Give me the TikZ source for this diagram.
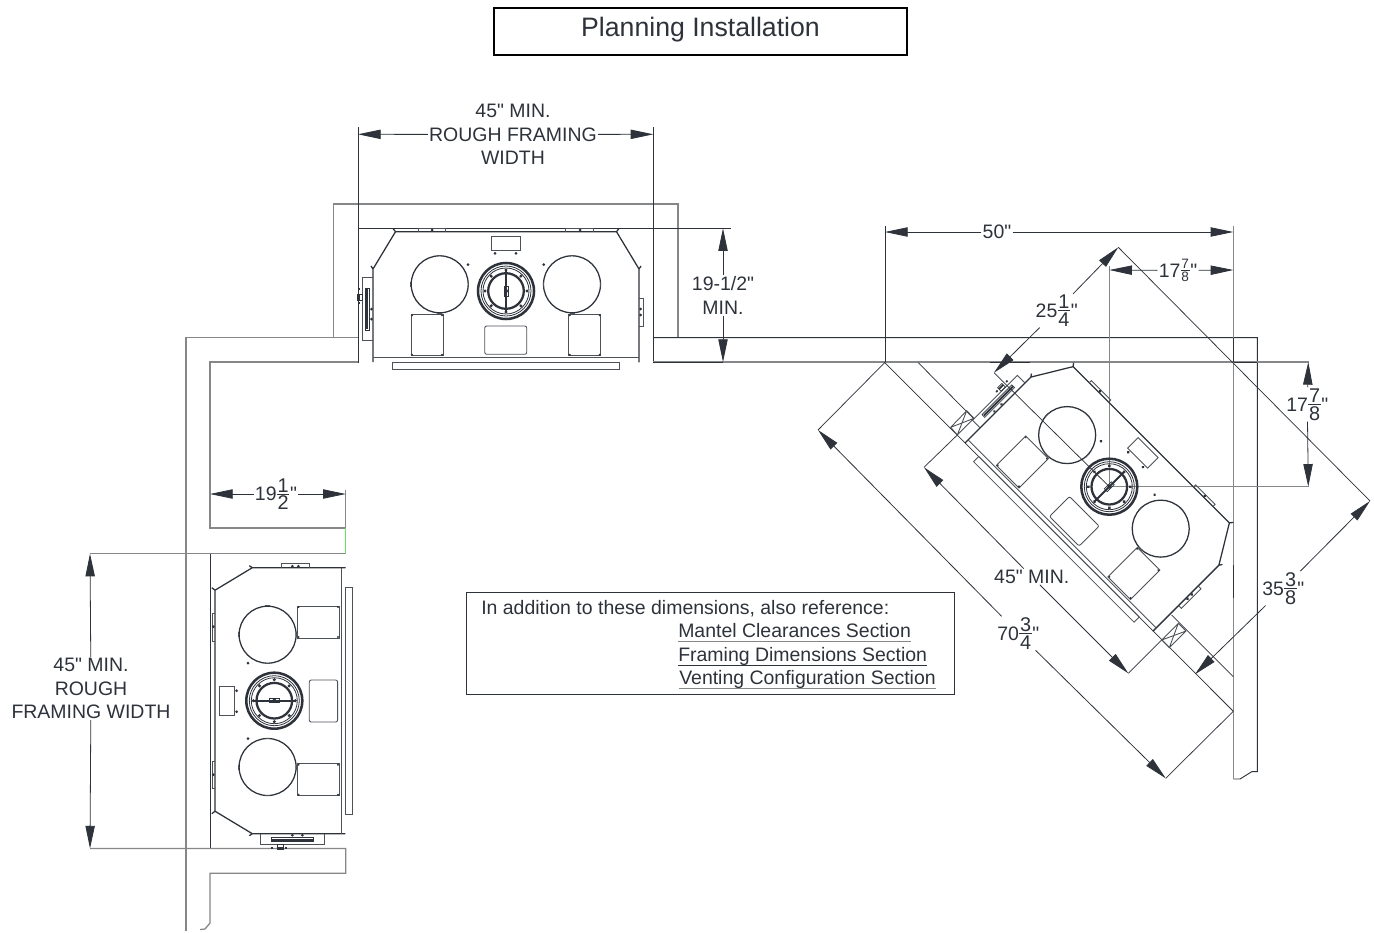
\documentclass[tikz,border=0pt]{standalone}
\usepackage{fontspec}
\newfontfamily\lsf{Liberation Sans}
\usetikzlibrary{arrows.meta}
\definecolor{inkc}{HTML}{2E333B}
\definecolor{wallc}{HTML}{858789}
\definecolor{greenc}{HTML}{66E066}
\newcommand{\fs}[1]{\lsf\fontsize{#1}{#1}\selectfont}
\newdimen\fracw
\newcommand{\mixfr}[4][14.9]{#2\kern.3pt\fracw=\dimexpr #1pt*556/1000+1pt\relax\lower\dimexpr #1pt*716/1000-4pt\relax\vbox{\offinterlineskip\hsize=\fracw
  \hbox to\fracw{\hfil\fs{#1}#3\hfil}\kern1.1pt\hrule height.55pt\kern1.1pt\hbox to\fracw{\hfil\fs{#1}#4\hfil}}\kern.5pt"}
\newsavebox{\ulbox}
\newcommand{\ult}[2]{\setbox\ulbox=\hbox{#2}\dp\ulbox=0pt\vtop{\offinterlineskip\copy\ulbox\kern2.9pt\hbox{\color{#1}\vrule width\wd\ulbox height.8pt depth0pt}}}
\tikzset{
 x=.75pt,y=-.75pt,
 wall/.style={draw=wallc,line width=.95pt},
 wallk/.style={draw=inkc,line width=.7pt},
 ext/.style={draw=inkc,line width=.55pt},
 dim/.style={draw=inkc,line width=.6pt,-{Triangle[length=17pt,width=7pt]}},
 lbl/.style={font=\fs{14.6},text=inkc,inner sep=.8pt,align=center,
   execute at begin node=\setlength{\baselineskip}{17.6pt}},
 body/.style={draw=inkc,line width=.95pt},
 det/.style={draw=inkc!85!white,line width=.65pt},
 thk/.style={draw=inkc,line width=1.2pt},
}
\newcommand{\dotd}[2]{\fill[inkc] (#1,#2) circle (1.5);}
\newcommand{\fpunit}{%
 % body
 \draw[body,line join=round] (-133,71) -- (-133,-22) -- (-135,-25) (-133,-22) -- (-110.5,-59.3) -- (-113,-62.5)
   (-110.5,-59.3) -- (110.5,-59.3) -- (113,-62.5) (110.5,-59.3) -- (133,-22) -- (135,-25) (133,-22) -- (133,71) -- cycle;
 \draw[det] (-133,66.7) -- (133,66.7);
 \draw[det] (-113.7,71) rectangle (113.3,78.3);
 % top tabs
 \draw[det] (-87.7,-59.3) -- (-87.7,-62.3) -- (-60.3,-62.3) -- (-60.3,-59.3);
 \draw[det] (59.7,-59.3) -- (59.7,-62.3) -- (87.3,-62.3) -- (87.3,-59.3);
 \dotd{-74}{-61}\dotd{74}{-61}
 % side tab right
 \draw[det] (133,7.3) -- (137,7.3) -- (137,35) -- (133,35);
 \dotd{134.5}{18}\dotd{134.5}{24}
 % igniter box left
 \draw[det] (-133,-13.7) -- (-143.7,-13.7) -- (-143.7,49.7) -- (-133,49.7);
 \draw[draw=inkc,line width=1.4pt] (-139,-2.7) -- (-139,38.3);
 \draw[draw=inkc,line width=.5pt] (-141,-3) rectangle (-137,39);
 \draw[draw=inkc,line width=1.2pt] (-147,-3) -- (-147,-1) (-147,3) -- (-147,9) (-147,11) -- (-147,13);
 \draw[draw=inkc,line width=.5pt] (-149,3) rectangle (-144,9);
 \dotd{-134.5}{18}\dotd{-134.5}{28}
 % circles
 \draw[body] (-66.3,-6.7) circle (28.5);
 \draw[body] (66,-6.7) circle (28.5);
 \foreach \cx in {-66.3,66}{
  \draw[det] (\cx-2.5,-35.5) -- (\cx+2.5,-35.5) (\cx-2.5,22) -- (\cx+2.5,22)
             (\cx-28.8,-9) -- (\cx-28.8,-4) (\cx+28.8,-9) -- (\cx+28.8,-4);
 }
 \dotd{-38}{-26.3}\dotd{37.7}{-26.3}
 % top rectangle
 \draw[det] (-14.3,-55) rectangle (14,-40.3);
 \dotd{-11}{-37.7}\dotd{10}{-37.7}
 % lower panels
 \draw[det] (-95,23.3) rectangle (-63,64.7);
 \draw[det] (62.7,23.3) rectangle (94.7,64.7);
 \foreach \px in {-94,-64,63.7,93.7}{\foreach \py in {24.3,63.7}{\fill[inkc] (\px,\py) circle (1.1);}}
 \draw[det,rounded corners=1.5pt] (-21.3,35) rectangle (20.7,63.3);
 % flue
 \draw[draw=inkc,line width=1.9pt] (0,0) circle (28);
 \draw[draw=inkc,line width=.6pt] (0,0) circle (25);
 \draw[draw=inkc,line width=.6pt] (0,0) circle (23);
 \draw[draw=inkc,line width=1.7pt] (0,0) circle (17.8);
 \draw[draw=inkc,line width=1.5pt] (0,-21) -- (0,21);
 \foreach \a in {0,45,...,315}{\fill[inkc] (\a:21) circle (1.7);}
 \draw[draw=inkc,line width=.5pt] (-2,-5) rectangle (2,5);
 \fill[inkc] (0,0) circle (2);
}
\begin{document}
\begin{tikzpicture}
\useasboundingbox (0,0) rectangle (1374,932);
\fill[white] (0,0) rectangle (1374,932);
% ---- title and note
\node[draw=black,line width=1.05pt,minimum width=309.5pt,minimum height=35pt,font=\fs{20},text=inkc,inner sep=0pt] (title) at (700.5,31.5) {\raisebox{-3.4pt}[0pt][0pt]{Planning Installation}};
\node[draw=inkc,line width=.7pt,minimum width=366pt,minimum height=76.5pt,inner sep=0pt] (notebox) at (710,643.3) {};
\node[anchor=base west,font=\fs{14.6},text=inkc,inner sep=0pt] (n0) at (481,614) {In addition to these dimensions, also reference:};
\node[anchor=base west,font=\fs{14.6},text=inkc,inner sep=0pt] (n1) at (678,637.5) {\ult{wallc}{Mantel Clearances Section}};
\node[anchor=base west,font=\fs{14.6},text=inkc,inner sep=0pt] (n2) at (678,661) {\ult{inkc}{Framing Dimensions Section}};
\node[anchor=base west,font=\fs{14.6},text=inkc,inner sep=0pt] (n3) at (679,684.5) {\ult{wallc}{Venting Configuration Section}};
% ---- walls: top alcove and left return
\draw[wall] (678,337.5) -- (678,204) -- (333.3,204) -- (333.3,337.5) -- (186,337.5) -- (186,931);
\draw[wall] (358,337.5) -- (333.3,337.5);
\draw[wall] (358,362) -- (210,362) -- (210,528) -- (345.7,528);
\draw[wallk] (210,554) -- (210,848.5);
\draw[ext] (358,127) -- (358,363);
\draw[ext] (653.3,127) -- (653.3,362);
\draw[wallk] (358,228.3) -- (731,228.3);
% ---- long wall
\draw[wallk] (653.3,337.7) -- (1257.3,337.7) -- (1257.3,771.7) -- (1251.7,771.7) -- (1240,779) -- (1233.3,779);
\draw[wall] (653.3,362) -- (1309,362);
\draw[wallk] (653.3,362) -- (723,362);
\draw[wallk] (1233.3,362) -- (1257.3,362);
\draw[wallk] (990,362) -- (1030,362);
\draw[wall] (1233.3,226) -- (1233.3,779);
\draw[wallk] (1233.3,338) -- (1233.3,362);
\draw[wallk] (1233.3,565) -- (1233.3,598);
\draw[ext] (885,226) -- (885,362);
\draw[wall] (1109.3,266) -- (1109.3,486.7) -- (1309,486.7);
% ---- left lower walls
\draw[wall] (90,553.7) -- (345.7,553.7);
\draw[draw=greenc,line width=.8pt] (345.7,528) -- (345.7,553.7);
\draw[wall] (345.7,490) -- (345.7,528);
\draw[wall] (90,848.5) -- (345.7,848.5) -- (345.7,873.3) -- (210,873.3) -- (210,923) -- (205,929) -- (200,929.5);
% ---- diagonal wall and framing
\draw[ext] (884.5,362.3) -- (1233.3,711.3);
\draw[ext] (918.3,362.7) -- (973.3,418.3);
\draw[ext] (1171.7,615) -- (1233.3,676.7);
\draw[det] (950.7,427.3) -- (966.7,410.7) -- (974,418.3) -- (957.3,435) -- cycle (950.7,427.3) -- (974,418.3) (966.7,410.7) -- (957.3,435);
\draw[det] (1161.7,640) -- (1178.3,623.3) -- (1186,631) -- (1169.3,647.7) -- cycle (1161.7,640) -- (1186,631) (1178.3,623.3) -- (1169.3,647.7);
% ---- fireplaces
\begin{scope}[shift={(506,291)}]\fpunit\end{scope}
\begin{scope}[shift={(274.3,700.7)},rotate=90]\fpunit\end{scope}
\begin{scope}[shift={(1109.3,486.7)},rotate=-45]\fpunit\end{scope}
% ---- diagonal extension lines
\coordinate (t25a) at (1118.3,247.3);
\coordinate (t25b) at (994,372.7);
\coordinate (t35a) at (1370,501);
\coordinate (t35b) at (1195,674.3);
\coordinate (t70a) at (818,430);
\coordinate (t70b) at (1165.7,778.3);
\coordinate (t45a) at (924,467.3);
\coordinate (t45b) at (1128.3,673.3);
\coordinate (flue) at (1109.3,486.7);
\draw[ext] (t25a) -- (t35a);
\draw[ext] (t25b) -- (flue);
\draw[ext] (t70a) -- (885,362.3);
\draw[ext] (t70b) -- (1233.3,711.3);
\draw[ext] (t45a) -- (957.3,435);
\draw[ext] (t45b) -- (1161.7,640);
% ---- dimensions
\coordinate (d1a) at (358,134.3); \coordinate (d1b) at (653.3,134.3);
\node[lbl] (l1) at (513,134.5) {45" MIN.\\ROUGH FRAMING\\WIDTH};
\draw[dim] (l1) -- (d1a); \draw[dim] (l1) -- (d1b);
\coordinate (d2a) at (723,228.3); \coordinate (d2b) at (723,362);
\node[lbl] (l2) at (723,295.5) {19-1/2"\\MIN.};
\draw[dim] (l2) -- (d2a); \draw[dim] (l2) -- (d2b);
\coordinate (d3a) at (885,232); \coordinate (d3b) at (1233.3,232);
\node[lbl] (l3) at (997,232) {50"};
\draw[dim] (l3) -- (d3a); \draw[dim] (l3) -- (d3b);
\coordinate (d4a) at (1109.3,270); \coordinate (d4b) at (1233.3,270);
\node[lbl] (l4) at (1178,270.5) {\mixfr[10.2]{17}{7}{8}};
\draw[dim] (l4) -- (d4a); \draw[dim] (l4) -- (d4b);
\node[lbl] (l5) at (1056.7,310.7) {\mixfr{25}{1}{4}};
\draw[dim] (l5) -- (t25a); \draw[dim] (l5) -- (t25b);
\coordinate (d6a) at (1308.3,362); \coordinate (d6b) at (1308.3,486.7);
\node[lbl] (l6) at (1307.3,404.5) {\mixfr{17}{7}{8}};
\draw[dim] (l6) -- (d6a); \draw[dim] (l6) -- (d6b);
\node[lbl] (l7) at (1283.3,588.3) {\mixfr{35}{3}{8}};
\draw[dim] (l7) -- (t35a); \draw[dim] (l7) -- (t35b);
\node[lbl] (l8) at (1018.3,633.3) {\mixfr{70}{3}{4}};
\draw[dim] (l8) -- (t70a); \draw[dim] (l8) -- (t70b);
\node[lbl] (l9) at (1031.7,576.7) {45" MIN.};
\draw[dim] (l9) -- (t45a); \draw[dim] (l9) -- (t45b);
\coordinate (d10a) at (210,494); \coordinate (d10b) at (345.7,494);
\node[lbl] (l10) at (276,494) {\mixfr{19}{1}{2}};
\draw[dim] (l10) -- (d10a); \draw[dim] (l10) -- (d10b);
\coordinate (d11a) at (90,553.7); \coordinate (d11b) at (90,848.5);
\node[lbl] (l11) at (91,688.5) {45" MIN.\\ROUGH\\FRAMING WIDTH};
\draw[dim] (l11) -- (d11a); \draw[dim] (l11) -- (d11b);
\end{tikzpicture}
\end{document}
